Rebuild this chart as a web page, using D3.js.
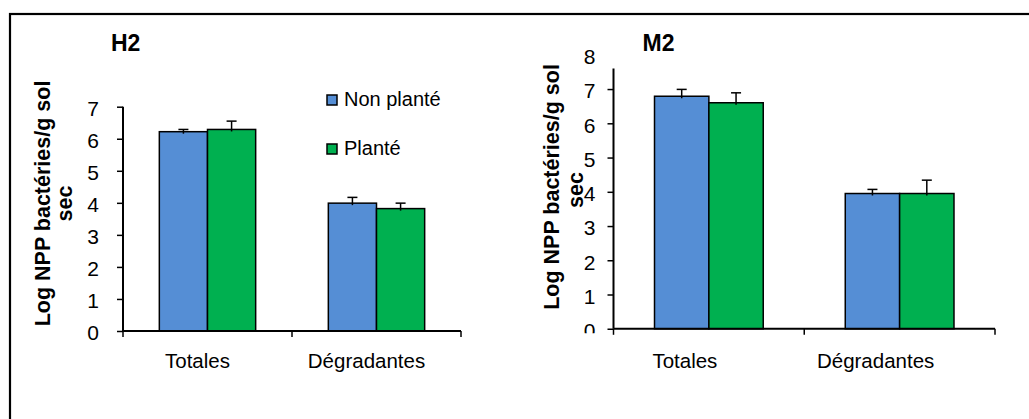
<!DOCTYPE html>
<html>
<head>
<meta charset="utf-8">
<script src="https://cdn.jsdelivr.net/npm/d3@7"></script>
<style>
  html, body { margin: 0; padding: 0; background: #fff; }
  svg { display: block; }
  text { font-family: "Liberation Sans", Arial, sans-serif; fill: #000; }
</style>
</head>
<body>
<svg id="chart" width="1029" height="419"></svg>
<script>
// ---- Data ----
const categories = ["Totales", "Dégradantes"];
const seriesNames = ["Non planté", "Planté"];
const seriesColors = ["#558ED5", "#00B050"];

// H2 panel
const h2NonPlante = [6.22, 3.99];
const h2Plante = [6.29, 3.82];
const h2ErrNonPlante = [0.07, 0.18];
const h2ErrPlante = [0.26, 0.17];
const h2Ticks = [0, 1, 2, 3, 4, 5, 6, 7];

// M2 panel
const m2NonPlante = [6.79, 3.95];
const m2Plante = [6.60, 3.95];
const m2ErrNonPlante = [0.20, 0.12];
const m2ErrPlante = [0.29, 0.39];
const m2Ticks = [0, 1, 2, 3, 4, 5, 6, 7, 8];

const yTitleLine1 = "Log NPP bactéries/g sol";
const yTitleLine2 = "sec";

// ---- Drawing ----
const svg = d3.select("#chart");

// outer frame
svg.append("rect")
  .attr("x", 10).attr("y", 14).attr("width", 1040).attr("height", 430)
  .attr("fill", "none").attr("stroke", "#000").attr("stroke-width", 2.2);

function panel(opts) {
  const g = svg.append("g");
  const x = d3.scaleBand().domain(categories)
    .range([opts.x0, opts.x1]).paddingInner(0.43).paddingOuter(0.215);
  const xs = d3.scaleBand().domain(seriesNames).range([0, x.bandwidth()]);
  const y = d3.scaleLinear().domain([0, opts.ymax]).range([opts.y0, opts.yTop]);

  const rows = [];
  categories.forEach((c, i) => {
    rows.push({cat: c, s: seriesNames[0], v: opts.vals[0][i], e: opts.errs[0][i], col: seriesColors[0]});
    rows.push({cat: c, s: seriesNames[1], v: opts.vals[1][i], e: opts.errs[1][i], col: seriesColors[1]});
  });

  // bars
  g.selectAll("rect.bar").data(rows).enter().append("rect")
    .attr("class", "bar")
    .attr("x", d => x(d.cat) + xs(d.s))
    .attr("width", xs.bandwidth())
    .attr("y", d => y(d.v))
    .attr("height", d => y(0) - y(d.v))
    .attr("fill", d => d.col)
    .attr("stroke", "#000").attr("stroke-width", 1.5);

  // error bars
  const cap = 10;
  const eb = g.selectAll("g.err").data(rows).enter().append("g").attr("class", "err");
  eb.append("line")
    .attr("x1", d => x(d.cat) + xs(d.s) + xs.bandwidth() / 2)
    .attr("x2", d => x(d.cat) + xs(d.s) + xs.bandwidth() / 2)
    .attr("y1", d => y(d.v) + 2)
    .attr("y2", d => y(d.v + d.e))
    .attr("stroke", "#000").attr("stroke-width", 1.5);
  eb.append("line")
    .attr("x1", d => x(d.cat) + xs(d.s) + xs.bandwidth() / 2 - cap / 2)
    .attr("x2", d => x(d.cat) + xs(d.s) + xs.bandwidth() / 2 + cap / 2)
    .attr("y1", d => y(d.v + d.e))
    .attr("y2", d => y(d.v + d.e))
    .attr("stroke", "#000").attr("stroke-width", 1.5);

  // y axis
  const yAxisG = g.append("g").attr("transform", `translate(${opts.x0},0)`);
  const yAxis = d3.axisLeft(y).tickValues(opts.ticks).tickFormat(d3.format("d"))
    .tickSizeInner(6).tickSizeOuter(0).tickPadding(opts.labelGap);
  yAxisG.call(yAxis);
  yAxisG.select(".domain").remove();
  yAxisG.selectAll(".tick line").attr("stroke", "#000").attr("stroke-width", 1.5)
    .attr("display", d => (d > opts.axisTopVal ? "none" : null));
  yAxisG.selectAll(".tick text")
    .attr("font-size", 21).attr("font-family", "'Liberation Sans', Arial, sans-serif")
    .attr("fill", "#000").attr("dy", "0.42em");
  if (opts.clipZero) {
    const cid = "clip" + opts.id;
    svg.append("clipPath").attr("id", cid).append("rect")
      .attr("x", -2000).attr("y", -10).attr("width", 4000).attr("height", opts.y0 + 14.5);
    yAxisG.attr("clip-path", `url(#${cid})`);
  }
  // y axis line (drawn up to axisTopVal)
  g.append("line")
    .attr("x1", opts.x0).attr("x2", opts.x0)
    .attr("y1", y(0)).attr("y2", y(opts.axisTopVal))
    .attr("stroke", "#000").attr("stroke-width", 2);

  // x axis line & ticks at band boundaries
  g.append("line")
    .attr("x1", opts.x0).attr("x2", opts.x1)
    .attr("y1", y(0)).attr("y2", y(0))
    .attr("stroke", "#000").attr("stroke-width", 2);
  const bounds = [opts.x0, x(categories[1]) - x.step() * 0.215, opts.x1];
  g.selectAll("line.xt").data(bounds).enter().append("line")
    .attr("class", "xt")
    .attr("x1", d => d).attr("x2", d => d)
    .attr("y1", y(0)).attr("y2", y(0) + 6)
    .attr("stroke", "#000").attr("stroke-width", 1.5);

  // category labels
  g.selectAll("text.cat").data(categories).enter().append("text")
    .attr("class", "cat")
    .attr("x", d => x(d) + x.bandwidth() / 2 + opts.catDx)
    .attr("y", 368)
    .attr("text-anchor", "middle")
    .attr("font-size", 20.5)
    .text(d => d);

  // title
  g.append("text").attr("x", opts.titleX).attr("y", 51)
    .attr("font-size", 23).attr("font-weight", "bold").text(opts.title);

  // y title
  g.append("text")
    .attr("transform", `translate(${opts.yt1x},${opts.ytCy}) rotate(-90)`)
    .attr("text-anchor", "middle").attr("font-size", 21.5).attr("font-weight", "bold")
    .text(yTitleLine1);
  g.append("text")
    .attr("transform", `translate(${opts.yt2x},${opts.ytCy2}) rotate(-90)`)
    .attr("text-anchor", "middle").attr("font-size", 21.5).attr("font-weight", "bold")
    .text(yTitleLine2);
}

panel({
  id: "h2", title: "H2", titleX: 111,
  x0: 123, x1: 461, y0: 331, yTop: 106.7, ymax: 7, axisTopVal: 7,
  ticks: h2Ticks, labelGap: 18, clipZero: false,
  vals: [h2NonPlante, h2Plante], errs: [h2ErrNonPlante, h2ErrPlante],
  catDx: -10, yt1x: 50, yt2x: 72, ytCy: 203.5, ytCy2: 203.5
});

panel({
  id: "m2", title: "M2", titleX: 642.5,
  x0: 613.5, x1: 995, y0: 328.8, yTop: 54.8, ymax: 8, axisTopVal: 7.6,
  ticks: m2Ticks, labelGap: 12, clipZero: true,
  vals: [m2NonPlante, m2Plante], errs: [m2ErrNonPlante, m2ErrPlante],
  catDx: -24, yt1x: 559, yt2x: 583, ytCy: 187, ytCy2: 190
});

// legend (H2 panel)
const leg = svg.append("g");
const legY = [95, 144];
seriesNames.forEach((s, i) => {
  leg.append("rect").attr("x", 327).attr("y", legY[i]).attr("width", 10).attr("height", 10)
    .attr("fill", seriesColors[i]).attr("stroke", "#000").attr("stroke-width", 1.5);
  leg.append("text").attr("x", 344).attr("y", legY[i] + 11)
    .attr("font-size", 20).text(s);
});
</script>
</body>
</html>
